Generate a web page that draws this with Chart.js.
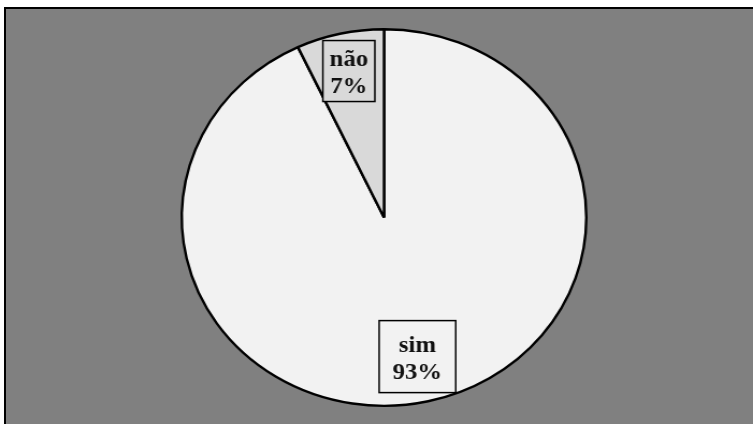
<!DOCTYPE html>
<html>
<head>
<meta charset="utf-8">
<script src="https://cdn.jsdelivr.net/npm/chart.js@4.4.1/dist/chart.umd.min.js"></script>
<style>
  html, body { margin: 0; padding: 0; background: #ffffff; width: 753px; height: 424px; overflow: hidden; }
  #bg { position: absolute; left: 4px; top: 7px; right: 0; bottom: 0; background: #808080;
        border-left: 2px solid #000; border-top: 2px solid #000; }
  #wrap { position: absolute; left: 0; top: 0; width: 701px; height: 424px;
          transform: scaleX(1.0742); transform-origin: 0 0; }
</style>
</head>
<body>
<div id="bg"></div>
<div id="wrap"><canvas id="c" width="701" height="424" style="width:701px;height:424px"></canvas></div>
<script>
const categories = ['sim', 'não'];
const values = [93, 7];
const percentLabels = ['93%', '7%'];
const sliceColors = ['#f2f2f2', '#d9d9d9'];

const labelBoxPlugin = {
  id: 'labelBoxes',
  afterDatasetsDraw(chart, args, opts) {
    const ctx = chart.ctx;
    const meta = chart.getDatasetMeta(0);
    meta.data.forEach((arc, i) => {
      const p = arc.getProps(['x', 'y', 'startAngle', 'endAngle', 'outerRadius'], true);
      const mid = (p.startAngle + p.endAngle) / 2;
      const r = p.outerRadius * opts.fractions[i];
      const cx = p.x + Math.cos(mid) * r;
      const cy = p.y + Math.sin(mid) * r;
      const w = opts.boxW[i], h = opts.boxH[i];
      ctx.save();
      ctx.fillStyle = sliceColors[i];
      ctx.fillRect(cx - w / 2, cy - h / 2, w, h);
      ctx.lineWidth = 1.5;
      ctx.strokeStyle = '#000';
      ctx.strokeRect(cx - w / 2, cy - h / 2, w, h);
      ctx.fillStyle = '#111111';
      ctx.font = 'bold 23px "Liberation Serif", "Times New Roman", serif';
      ctx.textAlign = 'center';
      ctx.textBaseline = 'alphabetic';
      ctx.fillText(categories[i], cx, cy - 4.7);
      ctx.fillText(percentLabels[i], cx, cy + 22.1);
      ctx.restore();
    });
  }
};

new Chart(document.getElementById('c'), {
  type: 'pie',
  data: {
    labels: categories,
    datasets: [{
      data: values,
      backgroundColor: sliceColors,
      borderColor: '#000000',
      borderWidth: 2.4
    }]
  },
  options: {
    responsive: false,
    animation: false,
    events: [],
    layout: { padding: { top: 28, bottom: 17, left: 14, right: 0 } },
    plugins: {
      legend: { display: false },
      tooltip: { enabled: false },
      labelBoxes: { fractions: [0.757, 0.797], boxW: [71.3, 48.4], boxH: [72, 61] }
    }
  },
  plugins: [labelBoxPlugin]
});
</script>
</body>
</html>
